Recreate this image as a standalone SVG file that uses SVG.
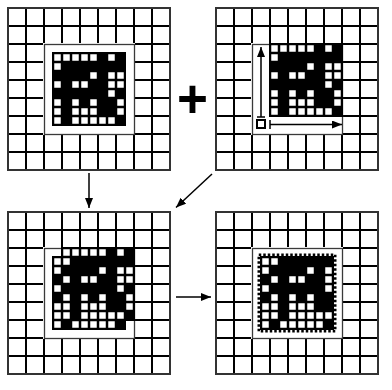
<svg xmlns="http://www.w3.org/2000/svg" xmlns:xlink="http://www.w3.org/1999/xlink" width="392" height="390" viewBox="0 0 392 390">
  <style>
    .grid { fill: none; stroke: #000; stroke-width: 2; }
    .frame { fill: none; stroke: #333; stroke-width: 2; }
    .win-bg { fill: #fff; }
    .win { fill: none; stroke: #3a3a3a; stroke-width: 1.3; }
    .ink { fill: #000; }
    .px { fill: #fff; }
    .conn { fill: none; stroke: #000; stroke-width: 1.5; }
    .dots { fill: none; stroke: #000; stroke-width: 2.5; stroke-dasharray: 2.5 2; }
    .op { font-family: "Liberation Sans", Arial, sans-serif; font-weight: bold; font-size: 53px; fill: #000; }
  </style>
  <defs>
    <marker id="ah" viewBox="0 0 10 8" refX="10" refY="4" markerWidth="10" markerHeight="8" markerUnits="userSpaceOnUse" orient="auto">
      <path d="M0 0L10 4L0 8Z" fill="#000"/>
    </marker>
    <rect id="w" width="6.5" height="6.5" class="px"/>
    <!-- 9x9 board with an empty 5x5 window in the middle -->
    <g id="board">
      <path class="grid" d="M18 0V162M36 0V162M54 0V162M72 0V162M90 0V162M108 0V162M126 0V162M144 0V162M0 18H162M0 36H162M0 54H162M0 72H162M0 90H162M0 108H162M0 126H162M0 144H162"/>
      <rect class="frame" x="0" y="0" width="162" height="162"/>
      <rect class="win-bg" x="35" y="35" width="92" height="92"/>
      <rect class="win" x="36.5" y="36.5" width="90" height="90"/>
    </g>
    <!-- 8x8 bitmap, 9px cells -->
    <g id="bitmap">
      <rect class="ink" x="-1" y="-1" width="74" height="74"/>
      <g transform="translate(1.25,1.25)">
        <use href="#w" x="0" y="0"/><use href="#w" x="9" y="0"/><use href="#w" x="18" y="0"/><use href="#w" x="27" y="0"/><use href="#w" x="36" y="0"/><use href="#w" x="54" y="0"/>
        <use href="#w" x="0" y="9"/>
        <use href="#w" x="36" y="18"/><use href="#w" x="54" y="18"/><use href="#w" x="63" y="18"/>
        <use href="#w" x="0" y="27"/><use href="#w" x="18" y="27"/><use href="#w" x="27" y="27"/><use href="#w" x="54" y="27"/><use href="#w" x="63" y="27"/>
        <use href="#w" x="54" y="36"/>
        <use href="#w" x="0" y="45"/><use href="#w" x="18" y="45"/><use href="#w" x="36" y="45"/><use href="#w" x="63" y="45"/>
        <use href="#w" x="0" y="54"/><use href="#w" x="18" y="54"/><use href="#w" x="27" y="54"/><use href="#w" x="36" y="54"/><use href="#w" x="63" y="54"/>
        <use href="#w" x="0" y="63"/><use href="#w" x="18" y="63"/><use href="#w" x="27" y="63"/><use href="#w" x="36" y="63"/><use href="#w" x="45" y="63"/><use href="#w" x="54" y="63"/>
      </g>
    </g>
  </defs>

  <rect width="392" height="390" fill="#fff"/>

  <!-- top left: original bitmap -->
  <g id="original" transform="translate(8,8)">
    <use href="#board"/>
    <use href="#bitmap" x="45" y="45"/>
  </g>

  <!-- plus sign -->
  <g id="plus">
    <text class="op" x="192.5" y="117" text-anchor="middle">+</text>
  </g>

  <!-- top right: bitmap shifted by one cell up and right -->
  <g id="shifted" transform="translate(216,8)">
    <use href="#board"/>
    <use href="#bitmap" x="54" y="36"/>
    <rect x="41" y="112" width="8" height="8" fill="#fff" stroke="#000" stroke-width="2"/>
    <path d="M41 109H49M45 109V39" class="conn" marker-end="url(#ah)"/>
    <path d="M54 112V121M54 116.5H126" class="conn" marker-end="url(#ah)"/>
  </g>

  <!-- bottom left: both bitmaps overlaid -->
  <g id="overlay" transform="translate(8,212)">
    <use href="#board"/>
    <path class="ink" d="M53 35H127V109H118V118H44V44H53Z"/>
    <g transform="translate(46.25,37.25)">
      <use href="#w" x="9" y="0"/><use href="#w" x="18" y="0"/><use href="#w" x="27" y="0"/><use href="#w" x="36" y="0"/><use href="#w" x="45" y="0"/><use href="#w" x="63" y="0"/>
      <use href="#w" x="0" y="9"/><use href="#w" x="9" y="9"/>
      <use href="#w" x="0" y="18"/><use href="#w" x="45" y="18"/><use href="#w" x="63" y="18"/><use href="#w" x="72" y="18"/>
      <use href="#w" x="9" y="27"/><use href="#w" x="27" y="27"/><use href="#w" x="36" y="27"/><use href="#w" x="63" y="27"/><use href="#w" x="72" y="27"/>
      <use href="#w" x="0" y="36"/><use href="#w" x="63" y="36"/>
      <use href="#w" x="9" y="45"/><use href="#w" x="27" y="45"/><use href="#w" x="45" y="45"/><use href="#w" x="72" y="45"/>
      <use href="#w" x="0" y="54"/><use href="#w" x="9" y="54"/><use href="#w" x="27" y="54"/><use href="#w" x="36" y="54"/><use href="#w" x="45" y="54"/><use href="#w" x="72" y="54"/>
      <use href="#w" x="0" y="63"/><use href="#w" x="9" y="63"/><use href="#w" x="27" y="63"/><use href="#w" x="36" y="63"/><use href="#w" x="45" y="63"/><use href="#w" x="54" y="63"/><use href="#w" x="63" y="63"/>
      <use href="#w" x="0" y="72"/><use href="#w" x="18" y="72"/><use href="#w" x="27" y="72"/><use href="#w" x="36" y="72"/><use href="#w" x="45" y="72"/><use href="#w" x="54" y="72"/>
    </g>
  </g>

  <!-- bottom right: result clipped to the original frame -->
  <g id="result" transform="translate(216,212)">
    <use href="#board"/>
    <rect class="ink" x="44" y="44" width="74" height="74"/>
    <g transform="translate(46.25,46.25)">
      <use href="#w" x="0" y="0"/><use href="#w" x="9" y="0"/>
      <use href="#w" x="0" y="9"/><use href="#w" x="45" y="9"/><use href="#w" x="63" y="9"/>
      <use href="#w" x="9" y="18"/><use href="#w" x="27" y="18"/><use href="#w" x="36" y="18"/><use href="#w" x="63" y="18"/>
      <use href="#w" x="0" y="27"/><use href="#w" x="63" y="27"/>
      <use href="#w" x="9" y="36"/><use href="#w" x="27" y="36"/><use href="#w" x="45" y="36"/>
      <use href="#w" x="0" y="45"/><use href="#w" x="9" y="45"/><use href="#w" x="27" y="45"/><use href="#w" x="36" y="45"/><use href="#w" x="45" y="45"/>
      <use href="#w" x="0" y="54"/><use href="#w" x="9" y="54"/><use href="#w" x="27" y="54"/><use href="#w" x="36" y="54"/><use href="#w" x="45" y="54"/><use href="#w" x="54" y="54"/><use href="#w" x="63" y="54"/>
      <use href="#w" x="0" y="63"/><use href="#w" x="18" y="63"/><use href="#w" x="27" y="63"/><use href="#w" x="36" y="63"/><use href="#w" x="45" y="63"/><use href="#w" x="54" y="63"/>
    </g>
    <rect class="dots" x="42.75" y="42.75" width="76.5" height="76.5"/>
  </g>

  <!-- connectors between the stages -->
  <g id="connectors">
    <line class="conn" x1="89" y1="173" x2="89" y2="208" marker-end="url(#ah)"/>
    <line class="conn" x1="212" y1="174" x2="176" y2="207.5" marker-end="url(#ah)"/>
    <line class="conn" x1="176" y1="297" x2="211" y2="297" marker-end="url(#ah)"/>
  </g>
</svg>
